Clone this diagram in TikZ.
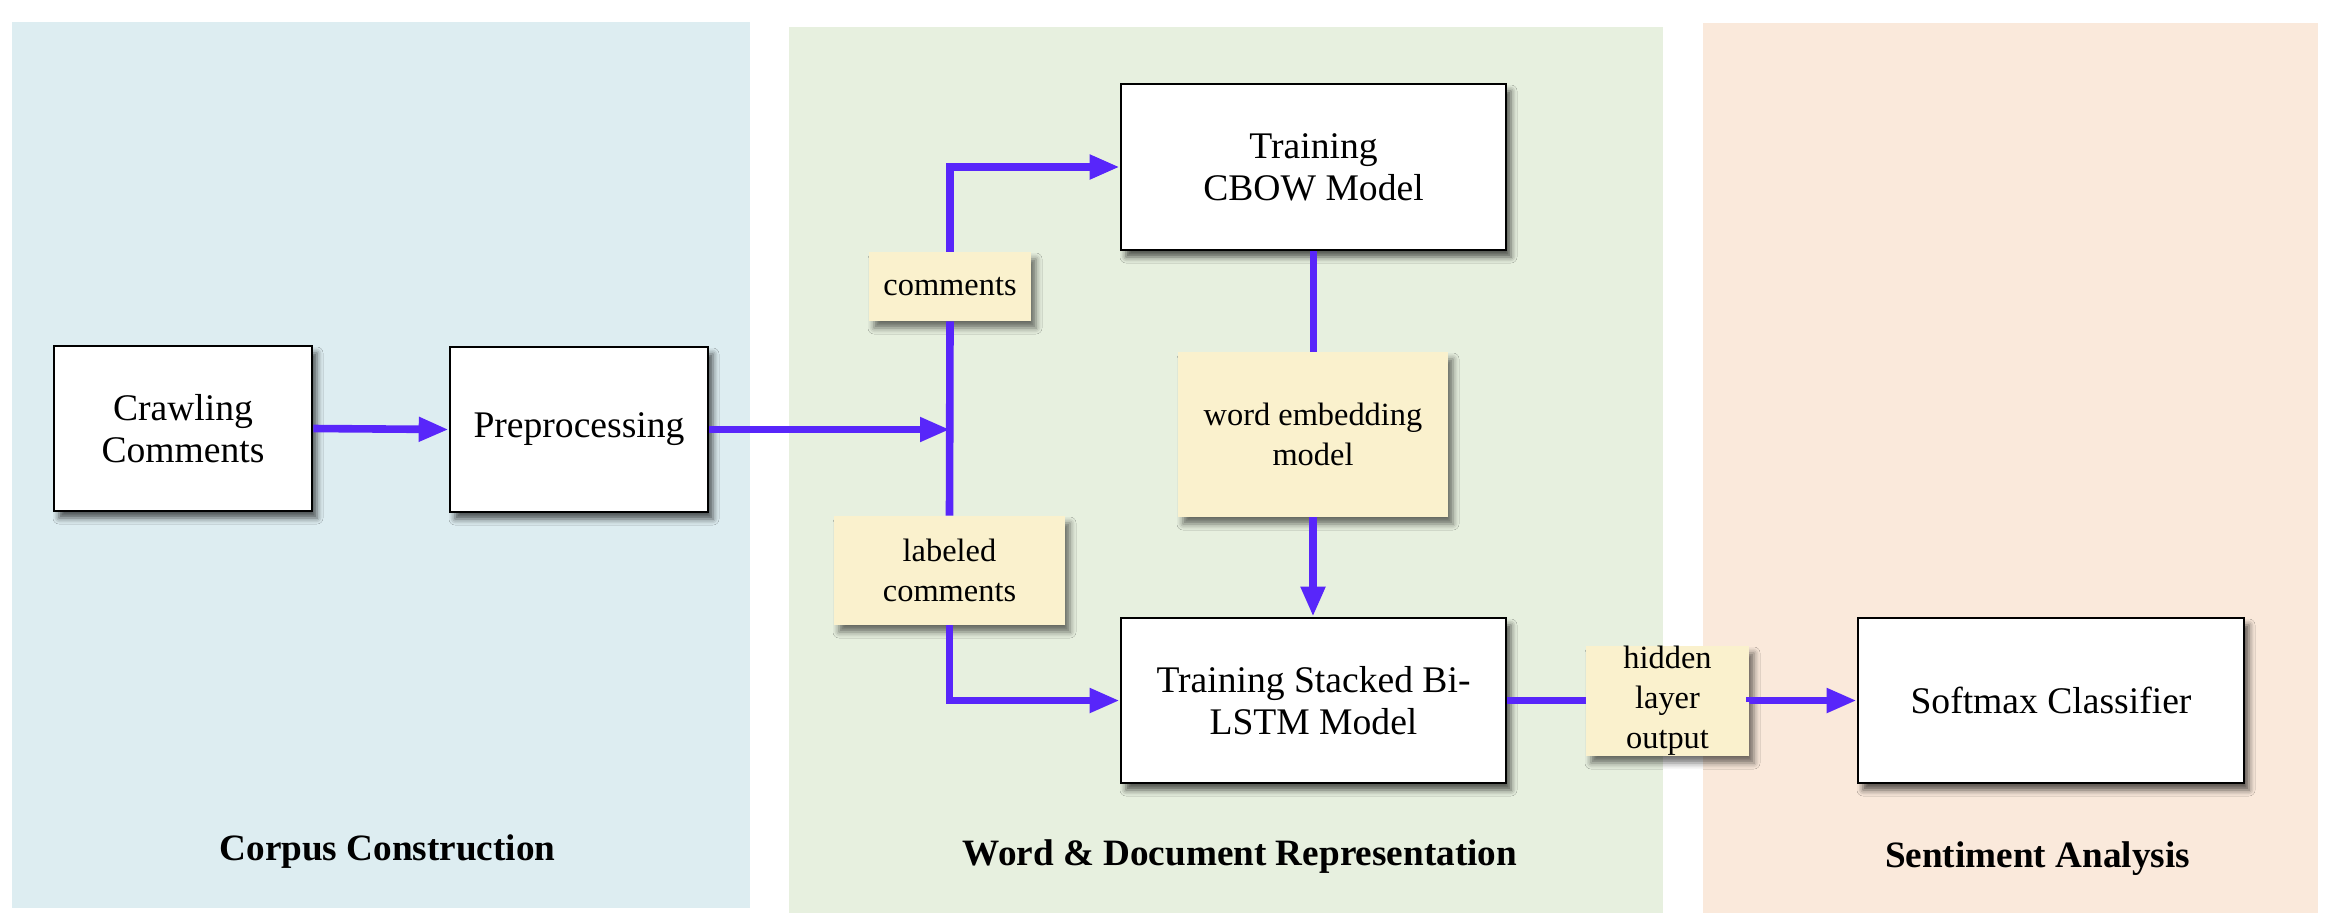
\documentclass[tikz,border=0pt]{standalone}
\usepackage{fontspec}
\setmainfont{Liberation Serif}
\usetikzlibrary{arrows.meta,shadows.blur,calc}
\definecolor{flow}{RGB}{88,38,250}
\definecolor{pblue}{RGB}{221,237,241}
\definecolor{pgreen}{RGB}{231,240,223}
\definecolor{porange}{RGB}{250,233,219}
\definecolor{lab}{RGB}{250,241,205}
\tikzset{
  procbox/.style={draw=black, line width=1.3pt, fill=white, align=center, inner sep=0pt,
    font=\fontsize{18.8}{21}\selectfont,
    blur shadow={shadow xshift=2.5pt, shadow yshift=-3.5pt, shadow blur radius=3pt, shadow opacity=65}},
  labbox/.style={fill=lab, align=center, inner sep=0pt,
    font=\fontsize{16.2}{20}\selectfont,
    blur shadow={shadow xshift=2.5pt, shadow yshift=-3.5pt, shadow blur radius=3pt, shadow opacity=55}},
  flowline/.style={draw=flow, line width=3.8pt},
  flowarrow/.style={flowline, -{Triangle[length=15pt,width=11.5pt]}},
  paneltitle/.style={font=\bfseries\fontsize{18.6}{22}\selectfont, anchor=base}
}
\begin{document}
\begin{tikzpicture}[x=0.5pt,y=-0.5pt]
\useasboundingbox (0,0) rectangle (2329,923);
% panels
\fill[pblue] (12,22) rectangle (750,908);
\fill[pgreen] (789,27) rectangle (1663,913);
\fill[porange] (1703,23) rectangle (2318,913);
% titles
\node[paneltitle] (t1) at (387.5,860) {Corpus Construction};
\node[paneltitle] (t2) at (1240,865) {Word \& Document Representation};
\node[paneltitle] (t3) at (2037.5,867) {Sentiment Analysis};
% process boxes
\node[procbox, minimum width=129pt, minimum height=82.5pt] (crawl) at (183,428.5) {Crawling\\Comments};
\node[procbox, minimum width=129pt, minimum height=82.5pt] (prep) at (579,429.5) {Preprocessing};
\node[procbox, minimum width=192.5pt, minimum height=83pt] (cbow) at (1313.5,167) {Training\\CBOW Model};
\node[procbox, minimum width=192.5pt, minimum height=82.5pt] (lstm) at (1313.5,700.5) {Training Stacked Bi-\\LSTM Model};
\node[procbox, minimum width=193pt, minimum height=82.5pt] (soft) at (2051,700.5) {Softmax Classifier};
% labels
\node[labbox, minimum width=81pt, minimum height=34.5pt] (comm) at (950,286.5) {comments};
\node[labbox, minimum width=115.5pt, minimum height=54.5pt] (lcomm) at (949.5,570.5) {labeled\\comments};
\node[labbox, minimum width=135pt, minimum height=82.5pt] (wem) at (1313,434.5) {word embedding\\model};
\node[labbox, minimum width=81.5pt, minimum height=55pt] (hid) at (1667.5,701) {hidden\\layer\\output};
% junction
\coordinate (j) at (comm.south |- prep.east);
% connectors
\draw[flowarrow] (crawl.east) -- (prep.west);
\draw[flowarrow] (prep.east) -- (j);
\draw[flowline] (comm.south) -- (lcomm.north);
\draw[flowarrow] (comm.north) |- (cbow.west);
\draw[flowarrow] (lcomm.south) |- (lstm.west);
\draw[flowline] (cbow.south) -- (cbow.south |- wem.north);
\draw[flowarrow] (wem.south) -- (wem.south |- lstm.north);
\draw[flowline] (lstm.east) -- (lstm.east -| hid.west);
\draw[flowarrow] (hid.east) -- (hid.east |- soft.west) -- (soft.west);
\end{tikzpicture}
\end{document}
